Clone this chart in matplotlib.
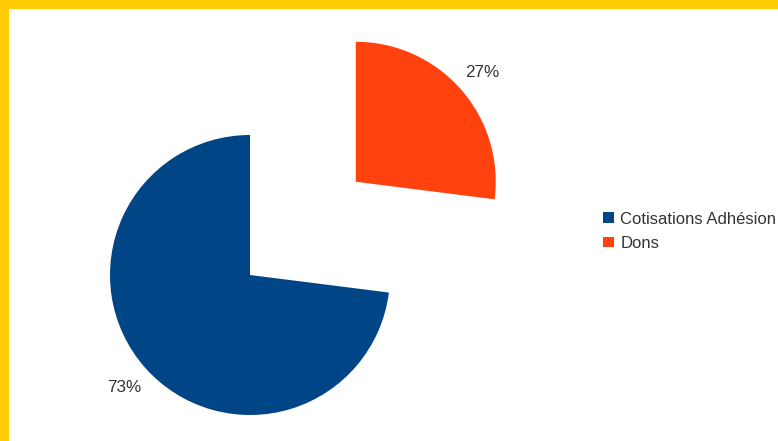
import matplotlib
matplotlib.use("Agg")
import matplotlib.pyplot as plt
from matplotlib.patches import Rectangle

categories = ["Cotisations Adhésion", "Dons"]
values = [73, 27]
colors = ["#004586", "#ff420e"]

W, H = 778, 441
DPI = 100
plt.rcParams['font.family'] = ['Liberation Sans', 'DejaVu Sans']

fig = plt.figure(figsize=(W / DPI, H / DPI), dpi=DPI)
fig.patch.set_facecolor("white")
ax = fig.add_axes([0, 0, 1, 1])

R = 140
cx, cy = 250, H - 275
wedges, _, autotexts = ax.pie(
    values, colors=colors, startangle=90, counterclock=True,
    radius=R, center=(cx, cy), explode=[0, 141],
    autopct='%.0f%%', pctdistance=1.2, frame=True,
    wedgeprops=dict(linewidth=0),
    textprops=dict(fontsize=12.3, color="#333333"))
for t in autotexts:
    t.set_va('center_baseline')
ax.set_xlim(0, W)
ax.set_ylim(0, H)
ax.set_aspect('auto')
ax.axis('off')

leg = fig.legend(wedges, categories, loc='upper left',
                 bbox_to_anchor=(603 / W, 1 - 211.5 / H),
                 frameon=False, fontsize=12, handlelength=0.63,
                 handleheight=0.63, handletextpad=0.4, labelspacing=0.56,
                 borderpad=0, borderaxespad=0)
for t in leg.get_texts():
    t.set_color("#333333")

yellow = "#ffcc00"
fig.add_artist(Rectangle((0, 0), 8.5 / W, 1, transform=fig.transFigure,
                         facecolor=yellow, edgecolor='none'))
fig.add_artist(Rectangle((0, 1 - 8.5 / H), 1, 8.5 / H, transform=fig.transFigure,
                         facecolor=yellow, edgecolor='none'))

fig.savefig("out.png", dpi=DPI)
